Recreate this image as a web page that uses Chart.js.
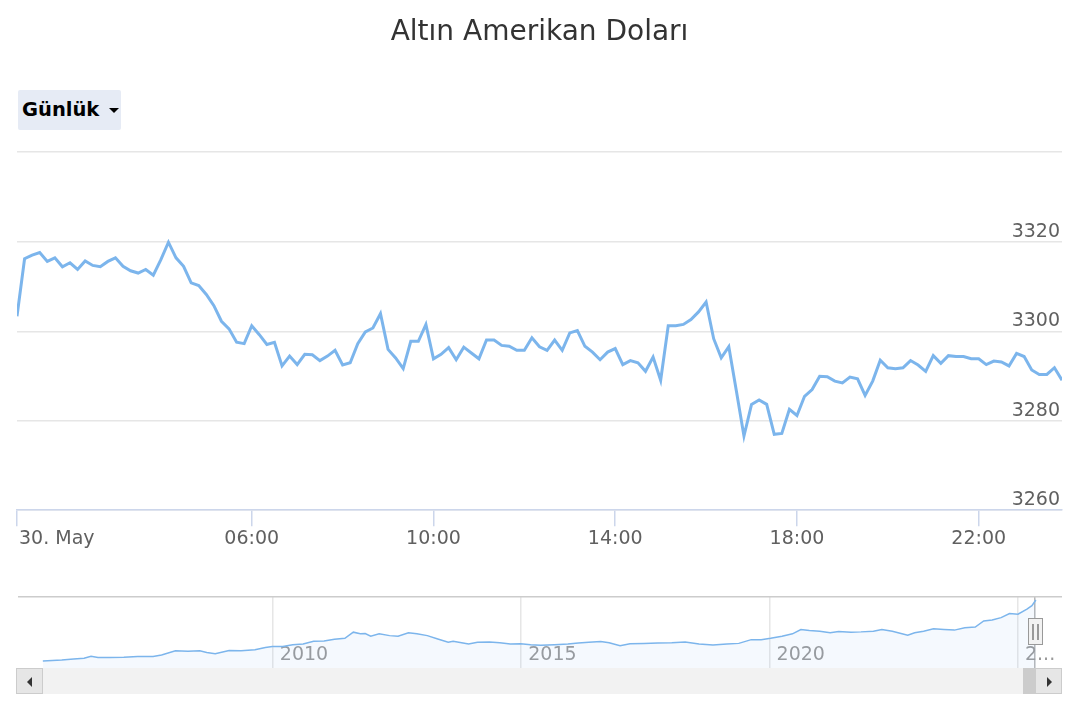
<!DOCTYPE html>
<html>
<head>
<meta charset="utf-8">
<title>Altın Amerikan Doları</title>
<script src="https://cdn.jsdelivr.net/npm/chart.js@4/dist/chart.umd.min.js"></script>
<style>
  body { margin: 0; background: #fff; font-family: "DejaVu Sans", sans-serif; }
  #wrap { position: relative; width: 1080px; height: 720px; overflow: hidden; }
  #mainChart { position: absolute; left: 0; top: 0; }
  #navChart { position: absolute; left: 0; top: 590px; }
  .range-btn {
    position: absolute; left: 18px; top: 90px; width: 103px; height: 40px;
    background: #e6ebf5; border-radius: 2px; box-sizing: border-box;
    padding-left: 4px; font-weight: bold; font-size: 19.5px; line-height: 40px; color: #000;
  }
  .range-btn .caret {
    position: absolute; left: 91px; top: 18px; width: 0; height: 0;
    border-left: 5px solid transparent; border-right: 5px solid transparent; border-top: 5px solid #000;
  }
  .track { position: absolute; left: 18px; top: 668px; width: 1044px; height: 26px; background: #f2f2f2; }
  .thumb { position: absolute; left: 1023px; top: 668px; width: 12px; height: 26px; background: #cccccc; }
  .sbtn {
    position: absolute; top: 668px; width: 27px; height: 26px; box-sizing: border-box;
    background: #e6e6e6; border: 1px solid #cccccc;
  }
  .sbtn i { position: absolute; top: 8px; width: 0; height: 0; border-top: 5px solid transparent; border-bottom: 5px solid transparent; }
  .sbtn.left i { left: 10px; border-right: 5px solid #333; }
  .sbtn.right i { left: 11px; border-left: 5px solid #333; }
  .handle {
    position: absolute; left: 1028px; top: 618px; width: 15px; height: 27px; box-sizing: border-box;
    background: #f2f2f2; border: 1.5px solid #999;
  }
  .handle b { position: absolute; top: 5px; width: 1.5px; height: 16px; background: #999; }
</style>
</head>
<body>
<div id="wrap">
  <canvas id="mainChart" width="1080" height="560"></canvas>
  <div class="range-btn">Günlük<span class="caret"></span></div>
  <canvas id="navChart" width="1080" height="78"></canvas>
  <div class="track"></div>
  <div class="thumb"></div>
  <div class="sbtn left" style="left:16px"><i></i></div>
  <div class="sbtn right" style="left:1035px"><i></i></div>
  <div class="handle"><b style="left:3px"></b><b style="left:8px"></b></div>
</div>
<script>
// intraday, 10 minute steps, 30 May
const tickIdx = [0, 31, 55, 79, 103, 127];
const tickLabels = ['30. May', '06:00', '10:00', '14:00', '18:00', '22:00'];
const yTicks = [3260, 3280, 3300, 3320];
const yMin = 3260, yMax = 3340.2;

const goldPrices = [
  3303.4, 3316.3, 3317.1, 3317.7, 3315.7, 3316.5, 3314.5, 3315.4, 3313.9, 3315.8,
  3314.8, 3314.5, 3315.7, 3316.5, 3314.6, 3313.6, 3313.1, 3313.9, 3312.6, 3316.1,
  3320.0, 3316.5, 3314.6, 3310.9, 3310.3, 3308.3, 3305.8, 3302.3, 3300.6, 3297.6,
  3297.3, 3301.3, 3299.3, 3297.1, 3297.6, 3292.3, 3294.5, 3292.6, 3294.9, 3294.8,
  3293.5, 3294.5, 3295.8, 3292.5, 3293.0, 3297.3, 3299.9, 3300.8, 3304.0, 3296.0,
  3294.1, 3291.7, 3297.8, 3297.8, 3301.6, 3293.9, 3294.9, 3296.4, 3293.7, 3296.5,
  3295.2, 3293.9, 3298.1, 3298.1, 3296.9, 3296.7, 3295.8, 3295.8, 3298.6, 3296.6,
  3295.8, 3298.1, 3295.8, 3299.7, 3300.2, 3296.7, 3295.4, 3293.7, 3295.4, 3296.2,
  3292.6, 3293.5, 3293.0, 3291.1, 3294.3, 3289.1, 3301.3, 3301.3, 3301.6, 3302.7,
  3304.4, 3306.6, 3298.4, 3294.1, 3296.6, 3286.7, 3276.6, 3283.7, 3284.7, 3283.7,
  3277.0, 3277.2, 3282.6, 3281.2, 3285.5, 3287.0, 3290.0, 3289.9, 3288.9, 3288.5,
  3289.8, 3289.4, 3285.7, 3288.9, 3293.6, 3291.9, 3291.7, 3291.9, 3293.5, 3292.5,
  3291.1, 3294.6, 3292.9, 3294.6, 3294.4, 3294.4, 3293.9, 3293.9, 3292.6, 3293.4,
  3293.2, 3292.3, 3295.1, 3294.4, 3291.4, 3290.4, 3290.4, 3291.9, 3289.1
];

// navigator (long history)
const navYears = [
  2005.37, 2005.75, 2005.99, 2006.20, 2006.34, 2006.48, 2006.72, 2007.00, 2007.28, 2007.59,
  2007.76, 2008.04, 2008.29, 2008.53, 2008.67, 2008.84, 2009.12, 2009.36, 2009.64, 2009.85,
  2009.99, 2010.20, 2010.40, 2010.61, 2010.82, 2011.03, 2011.24, 2011.45, 2011.62, 2011.76,
  2011.86, 2011.97, 2012.14, 2012.35, 2012.52, 2012.73, 2012.90, 2013.11, 2013.32, 2013.53,
  2013.63, 2013.80, 2013.94, 2014.12, 2014.36, 2014.57, 2014.78, 2014.99, 2015.19, 2015.39,
  2015.67, 2015.94, 2016.15, 2016.36, 2016.60, 2016.77, 2016.99, 2017.19, 2017.47, 2017.75,
  2018.03, 2018.30, 2018.58, 2018.86, 2019.14, 2019.38, 2019.63, 2019.83, 2020.02, 2020.25,
  2020.46, 2020.63, 2020.80, 2021.01, 2021.22, 2021.39, 2021.64, 2021.84, 2022.09, 2022.26,
  2022.47, 2022.78, 2022.92, 2023.10, 2023.30, 2023.51, 2023.72, 2023.93, 2024.14, 2024.31,
  2024.48, 2024.66, 2024.83, 2025.00, 2025.18, 2025.28, 2025.36
];
const navPrices = [
  420, 471, 518, 550, 643, 583, 583, 597, 629, 629,
  708, 903, 884, 903, 819, 759, 917, 903, 950, 1061,
  1107, 1107, 1191, 1219, 1349, 1363, 1447, 1493, 1781, 1702,
  1716, 1591, 1702, 1618, 1591, 1749, 1702, 1618, 1460, 1303,
  1349, 1284, 1219, 1303, 1317, 1284, 1219, 1238, 1191, 1158,
  1191, 1219, 1270, 1303, 1335, 1284, 1140, 1238, 1252, 1270,
  1284, 1317, 1219, 1172, 1219, 1252, 1428, 1428, 1493, 1591,
  1702, 1906, 1860, 1827, 1749, 1813, 1781, 1795, 1827, 1906,
  1827, 1637, 1749, 1827, 1939, 1906, 1878, 1990, 2023, 2310,
  2357, 2468, 2659, 2626, 2868, 3030, 3300
];
const navTickYears = [2010, 2015, 2020, 2025];
const navTickLabels = ['2010', '2015', '2020', '2...'];
const navRangeEnd = 2025.34;
const navMin = 90, navMax = 3441;
const navLabelLevel = 1336; // year labels sit inside the navigator

const labelFont = { family: 'DejaVu Sans', size: 19 };

// first x label sits right of its tick, like the original
const firstLabelLeft = {
  id: 'firstLabelLeft',
  beforeDraw(chart) {
    const items = chart.scales.x.getLabelItems(chart.chartArea);
    if (items.length && items[0].options.textAlign !== 'left') {
      items[0].options.textAlign = 'left';
      items[0].options.translation[0] += 2;
    }
  }
};

var ctx = document.getElementById('mainChart').getContext('2d');
var myChart = new Chart(ctx, {
  type: 'line',
  data: {
    datasets: [{
      label: 'Altın',
      data: goldPrices.map((v, i) => ({ x: i, y: v })),
      borderColor: '#7cb5ec',
      borderWidth: 3,
      pointRadius: 0,
      tension: 0,
      fill: false
    }]
  },
  options: {
    responsive: false,
    animation: false,
    layout: { padding: { left: 17, right: 18, top: 0, bottom: 9 } },
    plugins: {
      legend: { display: false },
      tooltip: { enabled: false },
      title: {
        display: true,
        text: 'Altın Amerikan Doları',
        color: '#333333',
        font: { family: 'DejaVu Sans', size: 28, weight: 'normal' },
        padding: { top: 16, bottom: 102.4 }
      }
    },
    scales: {
      x: {
        type: 'linear',
        min: 0,
        max: goldPrices.length - 1,
        afterBuildTicks: (s) => { s.ticks = tickIdx.map(v => ({ value: v })); },
        afterFit: (s) => { s.paddingLeft = 0; s.paddingRight = 0; },
        grid: { drawOnChartArea: false, drawTicks: true, tickLength: 16, color: '#ccd6eb', lineWidth: 1.5 },
        border: { color: '#ccd6eb', width: 1.5 },
        ticks: {
          autoSkip: false, maxRotation: 0, padding: 1,
          color: '#606060', font: labelFont,
          callback: (v, i) => tickLabels[i]
        }
      },
      y: {
        position: 'right',
        min: yMin,
        max: yMax,
        afterBuildTicks: (s) => { s.ticks = yTicks.concat([yMax]).map(v => ({ value: v })); },
        grid: { color: '#e6e6e6', lineWidth: 1.5, drawTicks: false },
        border: { display: false },
        ticks: {
          mirror: true, padding: -2, labelOffset: -10,
          color: '#606060', font: labelFont,
          callback: (v) => yTicks.includes(v) ? String(v) : ''
        }
      }
    }
  },
  plugins: [firstLabelLeft]
});

var navCtx = document.getElementById('navChart').getContext('2d');
var navChart = new Chart(navCtx, {
  type: 'line',
  data: {
    datasets: [{
      data: navYears.map((yr, i) => ({ x: yr, y: navPrices[i] })),
      borderColor: '#7cb5ec',
      borderWidth: 1.5,
      backgroundColor: 'rgba(124,181,236,0.08)',
      fill: 'start',
      pointRadius: 0,
      tension: 0
    }]
  },
  options: {
    responsive: false,
    animation: false,
    layout: { padding: { left: 18, right: 18, top: 7, bottom: 0 } },
    plugins: { legend: { display: false }, tooltip: { enabled: false } },
    scales: {
      x: {
        type: 'linear',
        position: { y: navLabelLevel },
        min: 2004.87,
        max: 2025.886,
        afterBuildTicks: (s) => { s.ticks = navTickYears.concat([navRangeEnd]).map(v => ({ value: v })); },
        afterFit: (s) => { s.paddingLeft = 0; s.paddingRight = 0; },
        grid: {
          drawTicks: false, lineWidth: 1.5,
          color: (c) => (c.tick && c.tick.value === navRangeEnd) ? '#b8b8b8' : '#e6e6e6'
        },
        border: { display: false },
        ticks: {
          autoSkip: false, maxRotation: 0, align: 'start', labelOffset: 7, padding: 2,
          color: '#999999', font: labelFont,
          callback: (v, i) => navTickLabels[i] || ''
        }
      },
      y: {
        min: navMin,
        max: navMax,
        afterBuildTicks: (s) => { s.ticks = [{ value: navMax }]; },
        grid: { drawTicks: false, color: '#cccccc', lineWidth: 1.5 },
        border: { display: false },
        ticks: { display: false }
      }
    }
  }
});
</script>
</body>
</html>
